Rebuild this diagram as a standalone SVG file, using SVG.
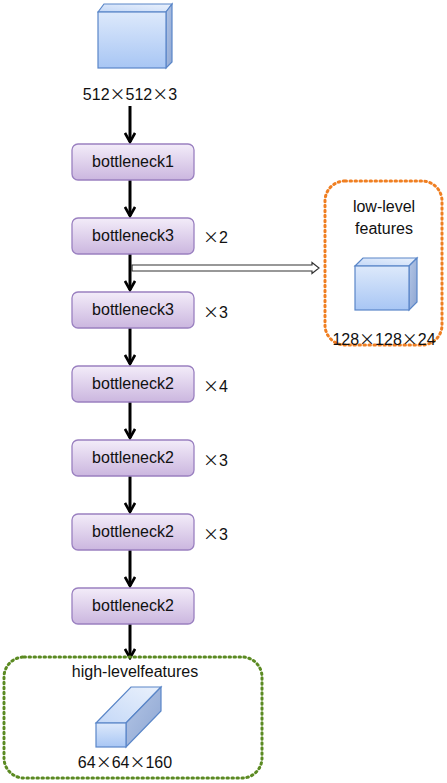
<svg xmlns="http://www.w3.org/2000/svg" width="447" height="783" viewBox="0 0 447 783">
<defs>
<linearGradient id="gBox" x1="0" y1="0" x2="0" y2="1">
<stop offset="0" stop-color="#f3ecf9"/>
<stop offset="1" stop-color="#cbb6df"/>
</linearGradient>
<linearGradient id="gFront" x1="0" y1="0" x2="0" y2="1">
<stop offset="0" stop-color="#dde9fb"/>
<stop offset="1" stop-color="#a8c6f4"/>
</linearGradient>
<linearGradient id="gTop" x1="0" y1="1" x2="1" y2="0">
<stop offset="0" stop-color="#c4d8f7"/>
<stop offset="1" stop-color="#eaf1fc"/>
</linearGradient>
<linearGradient id="gSide" x1="0" y1="0" x2="1" y2="1">
<stop offset="0" stop-color="#b4c6e6"/>
<stop offset="1" stop-color="#8ea6d2"/>
</linearGradient>
<marker id="ah" viewBox="0 0 12 12" refX="10" refY="6" markerWidth="12" markerHeight="12" markerUnits="userSpaceOnUse" orient="auto">
<path d="M1,1 L10,6 L1,11" fill="none" stroke="#000" stroke-width="2.6" stroke-linejoin="miter"/>
</marker>
</defs>
<style>
.box{fill:url(#gBox);stroke:#9a80c0;stroke-width:1.3}
.t{font-family:"Liberation Sans",Arial,sans-serif;font-size:16px;fill:#111}
.x{font-family:"Noto Sans CJK JP","Noto Sans CJK SC",sans-serif}
.front{fill:url(#gFront);stroke:#5a86c8;stroke-width:1.2}
.top{fill:url(#gTop);stroke:#5a86c8;stroke-width:1.2}
.side{fill:url(#gSide);stroke:#5a86c8;stroke-width:1.2}
.conn{stroke:#000;stroke-width:3;fill:none}
</style>

<g id="input">
<polygon class="top" points="98,12 104,4 172,4 166,12"/>
<polygon class="side" points="166,12 172,4 172,62 166,68"/>
<rect class="front" x="98" y="12" width="68" height="56"/>
<text class="t" x="130" y="100" text-anchor="middle">512<tspan class="x">×</tspan>512<tspan class="x">×</tspan>3</text>
</g>

<g id="connectors">
<line class="conn" x1="130" y1="106" x2="130" y2="142" marker-end="url(#ah)"/>
<line class="conn" x1="130" y1="180" x2="130" y2="216" marker-end="url(#ah)"/>
<line class="conn" x1="130" y1="254" x2="130" y2="290" marker-end="url(#ah)"/>
<line class="conn" x1="130" y1="328" x2="130" y2="364" marker-end="url(#ah)"/>
<line class="conn" x1="130" y1="402" x2="130" y2="438" marker-end="url(#ah)"/>
<line class="conn" x1="130" y1="476" x2="130" y2="512" marker-end="url(#ah)"/>
<line class="conn" x1="130" y1="550" x2="130" y2="586" marker-end="url(#ah)"/>
<line class="conn" x1="130" y1="624" x2="130" y2="658" marker-end="url(#ah)"/>
<path d="M132,265 L312,265 L312,262.5 L319,268 L312,273.5 L312,271 L132,271 Z" fill="#fff" stroke="#333" stroke-width="1.2"/>
</g>

<g id="b1">
<rect class="box" x="72" y="144" width="122" height="36" rx="6"/>
<text class="t" x="133" y="167" text-anchor="middle">bottleneck1</text>
</g>
<g id="b3a">
<rect class="box" x="72" y="218" width="122" height="36" rx="6"/>
<text class="t" x="133" y="241" text-anchor="middle">bottleneck3</text>
<text class="t" x="203" y="243"><tspan class="x">×</tspan>2</text>
</g>
<g id="b3b">
<rect class="box" x="72" y="292" width="122" height="36" rx="6"/>
<text class="t" x="133" y="315" text-anchor="middle">bottleneck3</text>
<text class="t" x="203" y="318"><tspan class="x">×</tspan>3</text>
</g>
<g id="b2a">
<rect class="box" x="72" y="366" width="122" height="36" rx="6"/>
<text class="t" x="133" y="389" text-anchor="middle">bottleneck2</text>
<text class="t" x="203" y="392"><tspan class="x">×</tspan>4</text>
</g>
<g id="b2b">
<rect class="box" x="72" y="440" width="122" height="36" rx="6"/>
<text class="t" x="133" y="463" text-anchor="middle">bottleneck2</text>
<text class="t" x="203" y="466"><tspan class="x">×</tspan>3</text>
</g>
<g id="b2c">
<rect class="box" x="72" y="514" width="122" height="36" rx="6"/>
<text class="t" x="133" y="537" text-anchor="middle">bottleneck2</text>
<text class="t" x="203" y="540"><tspan class="x">×</tspan>3</text>
</g>
<g id="b2d">
<rect class="box" x="72" y="588" width="122" height="36" rx="6"/>
<text class="t" x="133" y="611" text-anchor="middle">bottleneck2</text>
</g>

<g id="low">
<rect x="325" y="181" width="117" height="164" rx="20" fill="none" stroke="#f07f22" stroke-width="3" stroke-dasharray="1.5 3.5" stroke-linecap="round"/>
<text class="t" x="384" y="212" text-anchor="middle">low-level</text>
<text class="t" x="384" y="234" text-anchor="middle">features</text>
<polygon class="top" points="355,266 363,258 417,258 409,266"/>
<polygon class="side" points="409,266 417,258 417,302 409,310"/>
<rect class="front" x="355" y="266" width="54" height="44"/>
<text class="t" x="384" y="345" text-anchor="middle">128<tspan class="x">×</tspan>128<tspan class="x">×</tspan>24</text>
</g>

<g id="high">
<rect x="4" y="657" width="258" height="121" rx="20" fill="none" stroke="#5b8a22" stroke-width="3" stroke-dasharray="1.5 3.5" stroke-linecap="round"/>
<text class="t" x="135" y="677" text-anchor="middle">high-levelfeatures</text>
<polygon class="top" points="96,723 131,687 161,687 126,723"/>
<polygon class="side" points="126,723 161,687 161,711 126,747"/>
<rect class="front" x="96" y="723" width="30" height="24"/>
<text class="t" x="125" y="768" text-anchor="middle">64<tspan class="x">×</tspan>64<tspan class="x">×</tspan>160</text>
</g>
</svg>
